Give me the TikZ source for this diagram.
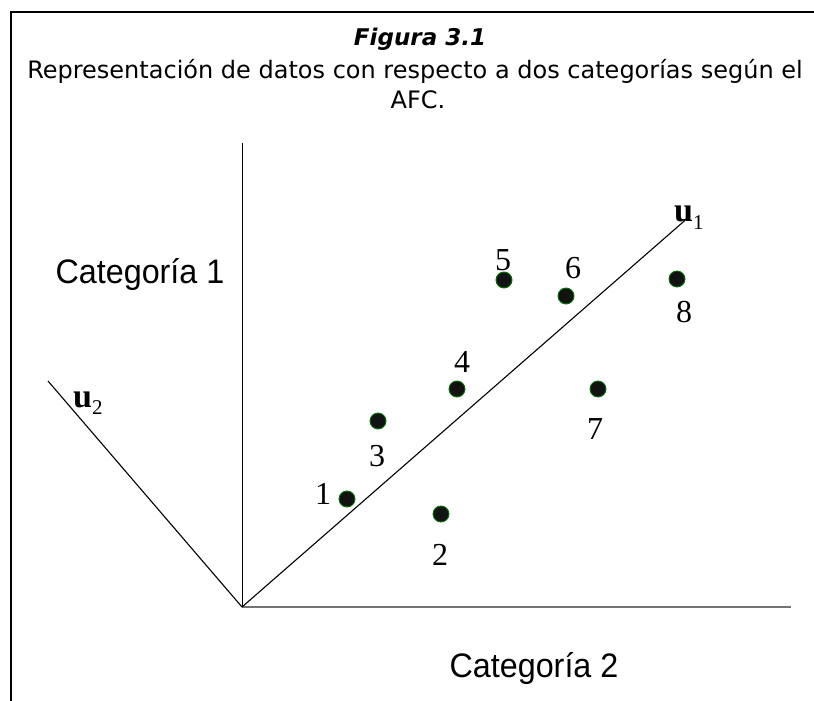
\documentclass[tikz,border=0pt]{standalone}
\usepackage{fontspec}
\setmainfont{Liberation Serif}
\newfontfamily\titlefont{DejaVu Sans}
\newfontfamily\catfont[FakeStretch=0.95]{Liberation Sans}
\begin{document}
\begin{tikzpicture}[x=1pt,y=-1pt,
  dot/.style={circle,fill=black!93,draw=green!45!black,line width=0.9pt,minimum size=16pt,inner sep=0pt},
  num/.style={font=\fontsize{32}{32}\selectfont,inner sep=0pt,anchor=base},
  cat/.style={font=\catfont\fontsize{34}{34}\selectfont,inner sep=0pt,anchor=base},
  ttl/.style={font=\titlefont\fontsize{24}{24}\selectfont,inner sep=0pt,anchor=base},
  vec/.style={inner sep=0pt,anchor=base west,font=\fontsize{34}{34}\selectfont\bfseries},
  axis/.style={line width=1pt,black},
  dir/.style={line width=1.1pt,black}]
\useasboundingbox (0,0) rectangle (814,701);
% frame
\coordinate (fl) at (11,701);
\coordinate (ft) at (11,12);
\coordinate (fr) at (814,12);
\draw[line width=2.2pt] (fl) -- (ft) -- (fr);
% title
\node[ttl,font=\titlefont\bfseries\itshape\fontsize{23}{23}\selectfont] (t1) at (420,46) {Figura 3.1};
\node[ttl] (t2) at (415,78) {Representación de datos con respecto a dos categorías según el};
\node[ttl] (t3) at (418,108) {AFC.};
% axes
\coordinate (O) at (242,607);
\coordinate (ytop) at (242,143);
\coordinate (xend) at (791,607);
\coordinate (u1e) at (690,216);
\coordinate (u2e) at (48,381);
\draw[axis] (O) -- (ytop);
\draw[line width=2pt,black!55] (O) -- (xend);
\draw[dir] (O) -- (u1e);
\draw[dir] (O) -- (u2e);
\node[vec] (u1) at (674,221) {u\raisebox{-8pt}{\fontsize{21}{21}\mdseries\selectfont 1}};
\node[vec] (u2) at (73,407) {u\raisebox{-7pt}{\fontsize{21}{21}\mdseries\selectfont 2}};
\node[cat] (c1) at (140,283) {Categoría 1};
\node[cat] (c2) at (534,677) {Categoría 2};
% points
\node[dot] (p1) at (347,499) {};
\node[dot] (p2) at (441,514) {};
\node[dot] (p3) at (378,421) {};
\node[dot] (p4) at (457,389) {};
\node[dot] (p5) at (504,280) {};
\node[dot] (p6) at (566,296) {};
\node[dot] (p7) at (598,389) {};
\node[dot] (p8) at (677,279) {};
\node[num] (l1) at (323,504) {1};
\node[num] (l2) at (440,565) {2};
\node[num] (l3) at (377,466) {3};
\node[num] (l4) at (462,372) {4};
\node[num] (l5) at (503,270) {5};
\node[num] (l6) at (573,278) {6};
\node[num] (l7) at (595,439) {7};
\node[num] (l8) at (684,322) {8};
\end{tikzpicture}
\end{document}
